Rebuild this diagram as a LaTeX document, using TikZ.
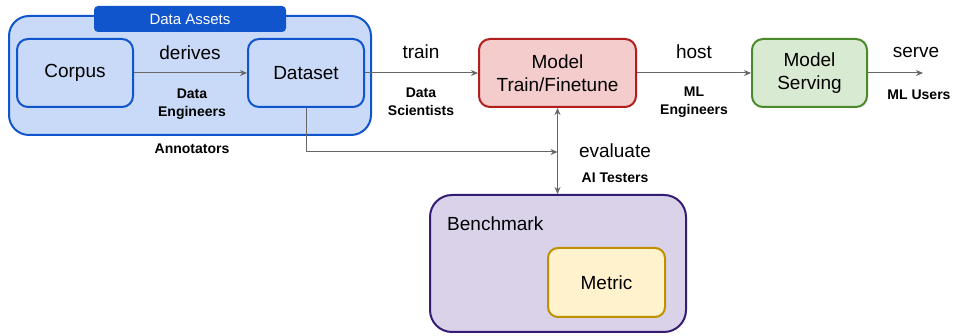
\documentclass[tikz,border=0pt]{standalone}
\usepackage{fontspec}
\setmainfont{Liberation Sans}
\usetikzlibrary{arrows.meta}
\definecolor{assetfill}{HTML}{C9DAF8}
\definecolor{assetline}{HTML}{1155CC}
\definecolor{modelfill}{HTML}{F4CCCC}
\definecolor{modelline}{HTML}{B21E1E}
\definecolor{servefill}{HTML}{D9EAD3}
\definecolor{serveline}{HTML}{4A8A2A}
\definecolor{benchfill}{HTML}{D9D2E9}
\definecolor{benchline}{HTML}{351C75}
\definecolor{metricfill}{HTML}{FFF2CC}
\definecolor{metricline}{HTML}{BF9000}
\definecolor{linkgray}{HTML}{666666}
\tikzset{
  stage/.style={draw, line width=2pt, rounded corners=11pt, align=center,
    inner sep=0pt, font=\fontsize{19}{22.5}\selectfont},
  verb/.style={inner sep=0pt, font=\fontsize{19}{22}\selectfont},
  role/.style={inner sep=0pt, align=center, font=\fontsize{14}{18}\selectfont\bfseries},
  link/.style={draw=linkgray, line width=1pt, -{Stealth[length=7pt,width=6pt]}}
}
\begin{document}
\begin{tikzpicture}[x=1pt,y=-1pt]
\useasboundingbox (0,0) rectangle (956,336);

\node[stage, draw=assetline, fill=assetfill, rounded corners=20pt,
  minimum width=362pt, minimum height=119pt] (assets) at (190,75.5) {};
\node[fill=assetline, rounded corners=4pt, minimum width=192pt, minimum height=26pt,
  inner sep=0pt, text=white, font=\fontsize{15}{17}\selectfont] (assethead) at (190,19) {Data Assets};

\node[stage, draw=assetline, fill=assetfill, minimum width=116pt, minimum height=68pt] (corpus) at (75,73) {Corpus};
\node[stage, draw=assetline, fill=assetfill, minimum width=116pt, minimum height=68pt] (dataset) at (306,73) {Dataset};
\node[stage, draw=modelline, fill=modelfill, minimum width=157pt, minimum height=68pt] (model) at (557.5,73) {Model\\Train/Finetune};
\node[stage, draw=serveline, fill=servefill, minimum width=115pt, minimum height=68pt] (serving) at (809.5,73) {Model\\Serving};

\node[stage, draw=benchline, fill=benchfill, rounded corners=22pt,
  minimum width=256pt, minimum height=137pt] (bench) at (558,263.5) {};
\node[verb, anchor=west] (benchname) at (447,224) {Benchmark};
\node[stage, draw=metricline, fill=metricfill, rounded corners=10pt,
  minimum width=117pt, minimum height=69pt] (metric) at (606.5,282.5) {Metric};

\node[verb] (derives) at (190,53) {derives};
\node[role] (dataeng) at (192,104) {Data\\Engineers};
\node[role] (annot) at (192,149) {Annotators};
\node[verb] (train) at (421,52) {train};
\node[role] (datasci) at (421,102) {Data\\Scientists};
\node[verb] (host) at (694,52) {host};
\node[role] (mleng) at (694,102) {ML\\Engineers};
\node[verb] (serve) at (916,52) {serve};
\node[role] (mlusers) at (919,95) {ML Users};
\node[verb] (evaluate) at (615,151) {evaluate};
\node[role] (testers) at (615,178) {AI Testers};

\coordinate (servedout) at (923,73);
\coordinate (evalpoint) at (557.5,152);

\draw[link] (corpus) -- (dataset);
\draw[link] (dataset) -- (model);
\draw[link] (model) -- (serving);
\draw[link] (serving) -- (servedout);
\draw[link] (dataset.south) |- (evalpoint);
\draw[link, {Stealth[length=7pt,width=6pt]}-{Stealth[length=7pt,width=6pt]}] (model.south) -- (model.south |- bench.north);
\end{tikzpicture}
\end{document}
